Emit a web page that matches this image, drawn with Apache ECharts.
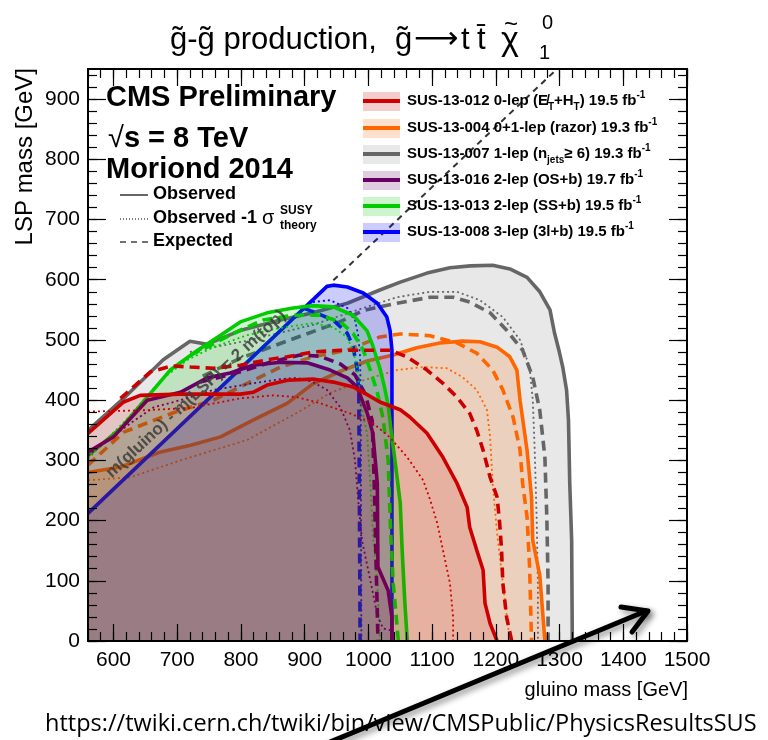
<!DOCTYPE html>
<html>
<head>
<meta charset="utf-8">
<script src="https://cdn.jsdelivr.net/npm/echarts@6/dist/echarts.min.js"></script>
<style>
html,body{margin:0;padding:0;background:#fff;}
#chart{width:768px;height:740px;}
</style>
</head>
<body>
<div id="chart"></div>
<script>
// Exclusion contours in the (gluino mass, LSP mass) plane, GeV.
// obs = observed, exp = expected, m1s = observed -1 sigma(theory)

const xMajor = [600, 700, 800, 900, 1000, 1100, 1200, 1300, 1400, 1500];
const yMajor = [0, 100, 200, 300, 400, 500, 600, 700, 800, 900];

// SUS-13-007 1-lep (njets >= 6)
const obs007 = [[560,350],[615,402],[678,467],[720,498],[747,493],[800,516],[862,533],[913,545],[967,561],[1018,583],[1050,596],[1092,611],[1128,620],[1160,623],[1195,624],[1222,618],[1249,604],[1269,580],[1285,550],[1292,512],[1299,483],[1305,455],[1311,417],[1314,367],[1316,262],[1319,167],[1320,0]];
const exp007 = [[740,440],[800,470],[877,500],[955,530],[992,549],[1045,561],[1097,571],[1133,571],[1159,563],[1191,545],[1217,516],[1242,483],[1258,438],[1269,383],[1277,305],[1280,206],[1282,96],[1282,0]];
const m1s007 = [[720,480],[815,500],[913,525],[992,553],[1045,571],[1097,580],[1139,580],[1175,566],[1211,538],[1238,500],[1253,455],[1258,400],[1261,317],[1264,206],[1266,96],[1266,0]];

// SUS-13-004 0+1-lep (razor)
const obs004 = [[560,280],[611,289],[674,314],[721,325],[768,339],[819,367],[873,395],[913,427],[956,448],[998,465],[1039,475],[1076,487],[1112,495],[1148,498],[1175,497],[1202,488],[1222,472],[1233,450],[1238,400],[1249,317],[1256,239],[1258,167],[1269,109],[1277,0]];
const exp004 = [[560,292],[616,347],[694,379],[757,400],[810,428],[862,455],[913,472],[967,483],[1018,505],[1050,510],[1097,507],[1139,495],[1170,478],[1195,450],[1211,417],[1227,372],[1238,317],[1242,262],[1249,206],[1253,123],[1256,0]];
const m1s004 = [[560,267],[627,272],[705,300],[810,334],[888,379],[940,412],[992,433],[1045,450],[1086,455],[1123,453],[1148,438],[1170,417],[1186,384],[1191,339],[1195,262],[1202,179],[1211,96],[1222,0]];

// SUS-13-008 3-lep (3l+b)
const obs008 = [[560,212],[935,589],[945,591],[967,588],[992,578],[1014,561],[1029,538],[1034,516],[1037,483],[1037,0]];
const exp008 = [[900,552],[913,547],[945,533],[967,511],[976,488],[982,455],[985,412],[987,0]];
const m1s008 = [[913,563],[940,566],[967,553],[979,533],[984,508],[987,472],[988,400],[989,0]];

// SUS-13-013 2-lep (SS+b)
const obs013 = [[560,308],[611,353],[653,405],[689,450],[732,483],[768,508],[799,530],[841,545],[882,553],[913,557],[945,555],[976,541],[998,515],[1007,490],[1018,453],[1025,423],[1031,392],[1035,355],[1040,314],[1045,272],[1050,229],[1053,151],[1057,68],[1061,0]];
const exp013 = [[721,475],[747,488],[788,511],[835,533],[882,541],[924,541],[956,530],[976,511],[992,483],[1003,450],[1014,413],[1023,370],[1031,300],[1035,179],[1039,96],[1047,0]];
const m1s013 = [[560,303],[627,375],[674,433],[716,467],[757,488],[810,508],[862,520],[913,528],[945,521],[966,505],[976,483],[982,455],[987,405],[992,372],[998,345],[1003,262],[1007,179],[1014,96],[1018,0]];

// SUS-13-016 2-lep (OS+b)
const obs016 = [[560,314],[600,339],[653,400],[705,413],[747,437],[783,445],[819,458],[862,463],[904,462],[940,450],[967,437],[982,422],[998,379],[1007,345],[1014,262],[1015,123],[1031,84],[1037,39],[1037,0]];
const exp016 = [[736,430],[799,447],[846,463],[893,475],[924,473],[956,460],[979,442],[995,410],[1006,366],[1009,267],[1012,134],[1015,0]];
const m1s016 = [[560,308],[627,362],[663,388],[705,400],[757,417],[819,428],[862,435],[888,437],[913,430],[935,417],[956,388],[971,350],[979,300],[984,234],[990,167],[1003,101],[1014,43],[1023,21],[1034,18]];

// SUS-13-012 0-lep (MHT+HT)
const obs012 = [[560,345],[616,397],[642,408],[705,410],[757,410],[799,410],[819,413],[841,425],[873,433],[913,435],[945,430],[976,422],[992,413],[1018,397],[1050,384],[1065,372],[1092,345],[1117,305],[1139,262],[1155,222],[1159,189],[1170,151],[1180,118],[1183,63],[1191,29],[1202,0]];
const exp012 = [[611,403],[658,447],[692,457],[721,455],[757,453],[799,458],[841,467],[873,472],[913,480],[956,483],[1034,483],[1060,472],[1092,450],[1117,428],[1139,405],[1159,378],[1170,350],[1180,317],[1191,272],[1202,239],[1206,196],[1209,151],[1211,96],[1217,39],[1225,0]];
const m1s012 = [[560,381],[642,383],[721,387],[799,403],[851,408],[888,405],[924,395],[971,378],[1007,362],[1034,338],[1061,305],[1086,267],[1097,234],[1108,196],[1117,151],[1128,96],[1133,39],[1133,0]];

// kinematic limit m(gluino) - m(LSP) = 2 m(top)
const kinLine = [[945,599],[1296,950]];

const FONT = '"Liberation Sans", Arial, Helvetica, sans-serif';

// drawing order: each analysis' band covers the lines drawn before it
const analyses = [
  {obs: obs007, exp: exp007, m1s: m1s007, color: '#666666', fill: 'rgba(102,102,102,0.15)'},
  {obs: obs004, exp: exp004, m1s: m1s004, color: '#ff6600', fill: 'rgba(255,102,0,0.18)'},
  {obs: obs008, exp: exp008, m1s: m1s008, color: '#0000ff', fill: 'rgba(0,0,255,0.2)'},
  {obs: obs013, exp: exp013, m1s: m1s013, color: '#00cc00', fill: 'rgba(0,204,0,0.18)'},
  {obs: obs016, exp: exp016, m1s: m1s016, color: '#660066', fill: 'rgba(102,0,102,0.15)'},
  {obs: obs012, exp: exp012, m1s: m1s012, color: '#cc0000', fill: 'rgba(204,0,0,0.15)'}
];

function curve(data, color, kind, fill, z) {
  const s = {
    type: 'line', data: data, symbol: 'none', silent: true, animation: false, clip: true,
    xAxisIndex: 0, yAxisIndex: 0, z: z,
    lineStyle: {
      color: color,
      width: kind === 'dot' ? 1.8 : 3.6,
      type: kind === 'solid' ? 'solid' : (kind === 'dash' ? [10, 6] : [2, 3])
    }
  };
  if (fill) s.areaStyle = {color: fill, opacity: 1, origin: 'start'};
  return s;
}

const series = [];
analyses.forEach((a, i) => {
  const z = 2 + i;
  series.push(curve(a.obs, a.color, 'solid', a.fill, z));
  series.push(curve(a.m1s, a.color, 'dot', null, z));
  series.push(curve(a.exp, a.color, 'dash', null, z));
});
series.push({
  type: 'line', data: kinLine, symbol: 'none', silent: true, animation: false,
  xAxisIndex: 0, yAxisIndex: 0, z: 12,
  lineStyle: {color: '#333', width: 2, type: [6, 5]}
});

const xMinor = [];
for (let v = 560; v <= 1500; v += 20) xMinor.push(v);
const yMinor = [];
for (let v = 0; v <= 940; v += 20) yMinor.push(v);

const plainNumber = v => String(v);

function xAxis(pos, ticks, len, labels) {
  return {
    type: 'value', position: pos, min: 560, max: 1500, z: 20,
    axisLine: {show: true, onZero: false, lineStyle: {color: '#000', width: 2}},
    axisTick: {show: true, inside: true, length: len, customValues: ticks, lineStyle: {color: '#000', width: 1.2}},
    axisLabel: labels ? {show: true, customValues: xMajor, formatter: plainNumber, margin: 9, fontSize: 21, color: '#000', fontFamily: FONT} : {show: false},
    splitLine: {show: false}
  };
}
function yAxis(pos, ticks, len, labels) {
  return {
    type: 'value', position: pos, min: 0, max: 950, z: 20,
    axisLine: {show: true, onZero: false, lineStyle: {color: '#000', width: 2}},
    axisTick: {show: true, inside: true, length: len, customValues: ticks, lineStyle: {color: '#000', width: 1.2}},
    axisLabel: labels ? {show: true, customValues: yMajor, formatter: plainNumber, margin: 8, fontSize: 21, color: '#000', fontFamily: FONT} : {show: false},
    splitLine: {show: false}
  };
}

// legend rows on the right
const legendRows = [
  {color: '#cc0000', fill: 'rgba(204,0,0,0.2)', text: '{m|SUS-13-012 0-lep (E\u0338}{sub|T}{m|+H}{sub|T}{m|) 19.5 fb}{sup|-1}'},
  {color: '#ff6600', fill: 'rgba(255,102,0,0.2)', text: '{m|SUS-13-004 0+1-lep (razor) 19.3 fb}{sup|-1}'},
  {color: '#666666', fill: 'rgba(102,102,102,0.15)', text: '{m|SUS-13-007 1-lep (n}{sub|jets}{m|\u2265 6) 19.3 fb}{sup|-1}'},
  {color: '#660066', fill: 'rgba(102,0,102,0.2)', text: '{m|SUS-13-016 2-lep (OS+b) 19.7 fb}{sup|-1}'},
  {color: '#00cc00', fill: 'rgba(0,204,0,0.2)', text: '{m|SUS-13-013 2-lep (SS+b) 19.5 fb}{sup|-1}'},
  {color: '#0000ff', fill: 'rgba(0,0,255,0.2)', text: '{m|SUS-13-008 3-lep (3l+b) 19.5 fb}{sup|-1}'}
];
const rowY = [101, 128, 154, 180, 206, 232];

const richLegend = {
  m: {fontSize: 15, fontWeight: 'bold', fontFamily: FONT, lineHeight: 22, fill: '#000'},
  sub: {fontSize: 10, fontWeight: 'bold', fontFamily: FONT, lineHeight: 11, verticalAlign: 'bottom', fill: '#000'},
  sup: {fontSize: 10, fontWeight: 'bold', fontFamily: FONT, lineHeight: 11, verticalAlign: 'top', fill: '#000'}
};

const graphic = [];
legendRows.forEach((r, i) => {
  const y = rowY[i];
  graphic.push({type: 'rect', z: 30, shape: {x: 363, y: y - 9, width: 37, height: 19}, style: {fill: r.fill}});
  graphic.push({type: 'line', z: 31, shape: {x1: 363, y1: y, x2: 400, y2: y}, style: {stroke: r.color, lineWidth: 4}});
  graphic.push({type: 'text', z: 31, x: 407, y: y, style: {text: r.text, rich: richLegend, align: 'left', verticalAlign: 'middle', textAlign: 'left', textVerticalAlign: 'middle'}});
});

function txt(x, y, text, font, extra) {
  return {type: 'text', z: 32, x: x, y: y,
    style: Object.assign({text: text, font: font, fill: '#000', align: 'left', verticalAlign: 'middle', textAlign: 'left', textVerticalAlign: 'middle'}, extra || {})};
}

// title, set piece by piece
const TF = '31px ' + FONT;
graphic.push(txt(170, 40, 'g\u0303-g\u0303 production,', TF));
graphic.push(txt(395, 40, 'g\u0303', TF));
graphic.push(txt(414, 40, '\u27f6', '31px "DejaVu Sans", sans-serif', {}));
graphic.push(txt(461, 40, 't', TF));
graphic.push(txt(477, 40, 't\u0304', TF));
graphic.push(txt(501, 41, '\u03c7', '34px ' + FONT));
graphic.push(txt(504, 25, '~', '24px ' + FONT));
graphic.push(txt(542, 23, '0', '20px ' + FONT));
graphic.push(txt(539, 53, '1', '20px ' + FONT));

// experiment labels
graphic.push(txt(106, 98, 'CMS Preliminary', 'bold 29px ' + FONT));
graphic.push({type: 'text', z: 32, x: 108, y: 139, style: {
  text: '{r|\u221a}{b|s = 8 TeV}', align: 'left', verticalAlign: 'middle', textAlign: 'left', textVerticalAlign: 'middle',
  rich: {r: {fontSize: 29, fontFamily: FONT, fill: '#000'}, b: {fontSize: 29, fontWeight: 'bold', fontFamily: FONT, fill: '#000'}}}});
graphic.push(txt(106, 170, 'Moriond 2014', 'bold 29px ' + FONT));

// line-style key
graphic.push({type: 'line', z: 32, shape: {x1: 120, y1: 195, x2: 148, y2: 195}, style: {stroke: '#000', lineWidth: 1.2}});
graphic.push(txt(153, 194, 'Observed', 'bold 18px ' + FONT));
graphic.push({type: 'line', z: 32, shape: {x1: 120, y1: 219, x2: 148, y2: 219}, style: {stroke: '#000', lineWidth: 1.2, lineDash: [1, 2]}});
graphic.push({type: 'text', z: 32, x: 153, y: 218, style: {
  text: '{b|Observed -1 }{s|\u03c3}', align: 'left', verticalAlign: 'middle', textAlign: 'left', textVerticalAlign: 'middle',
  rich: {b: {fontSize: 18, fontWeight: 'bold', fontFamily: FONT, fill: '#000'}, s: {fontSize: 20, fontFamily: FONT, fill: '#000'}}}});
graphic.push(txt(280, 211, 'SUSY', 'bold 12px ' + FONT));
graphic.push(txt(280, 226, 'theory', 'bold 12px ' + FONT));
graphic.push({type: 'line', z: 32, shape: {x1: 120, y1: 242, x2: 148, y2: 242}, style: {stroke: '#444', lineWidth: 1.5, lineDash: [6, 5]}});
graphic.push(txt(153, 241, 'Expected', 'bold 18px ' + FONT));

// kinematic limit label
graphic.push({type: 'text', z: 32, x: 196, y: 394, rotation: 0.747, style: {
  text: 'm(gluino) - m(LSP) = 2 m(top)', font: 'bold 17px ' + FONT, fill: 'rgba(60,60,60,0.85)',
  align: 'center', verticalAlign: 'middle', textAlign: 'center', textVerticalAlign: 'middle'}});

// axis titles
graphic.push({type: 'text', z: 32, x: 25, y: 68, rotation: Math.PI / 2, style: {
  text: 'LSP mass [GeV]', font: '24px ' + FONT, fill: '#000',
  align: 'right', verticalAlign: 'middle', textAlign: 'right', textVerticalAlign: 'middle'}});
graphic.push({type: 'text', z: 32, x: 688, y: 690, style: {
  text: 'gluino mass [GeV]', font: '20px ' + FONT, fill: '#000',
  align: 'right', verticalAlign: 'middle', textAlign: 'right', textVerticalAlign: 'middle'}});

// source link
graphic.push({type: 'text', z: 32, x: 45, y: 724, style: {
  text: 'https://twiki.cern.ch/twiki/bin/view/CMSPublic/PhysicsResultsSUS', font: '23.5px "Open Sans", Lato, sans-serif', fill: '#000',
  align: 'left', verticalAlign: 'middle', textAlign: 'left', textVerticalAlign: 'middle'}});

// pointer arrow
const arrowStyle = {stroke: '#000', lineWidth: 5, lineCap: 'round', lineJoin: 'round', fill: null,
  shadowColor: 'rgba(0,0,0,0.45)', shadowBlur: 6, shadowOffsetX: 3, shadowOffsetY: 3};
graphic.push({type: 'line', z: 40, shape: {x1: 318, y1: 747, x2: 646, y2: 611}, style: arrowStyle});
graphic.push({type: 'polyline', z: 40, shape: {points: [[621, 607], [648, 611], [632, 632]]}, style: arrowStyle});

const chart = echarts.init(document.getElementById('chart'), null, {renderer: 'canvas'});
chart.setOption({
  animation: false,
  backgroundColor: '#fff',
  grid: {left: 88, top: 69, width: 599, height: 572, containLabel: false, outerBoundsMode: 'none'},
  xAxis: [xAxis('bottom', xMajor, 17, true), xAxis('bottom', xMinor, 9, false), xAxis('top', xMajor, 17, false), xAxis('top', xMinor, 9, false)],
  yAxis: [yAxis('left', yMajor, 18, true), yAxis('left', yMinor, 9, false), yAxis('right', yMajor, 18, false), yAxis('right', yMinor, 9, false)],
  series: series,
  graphic: graphic
});
</script>
</body>
</html>
